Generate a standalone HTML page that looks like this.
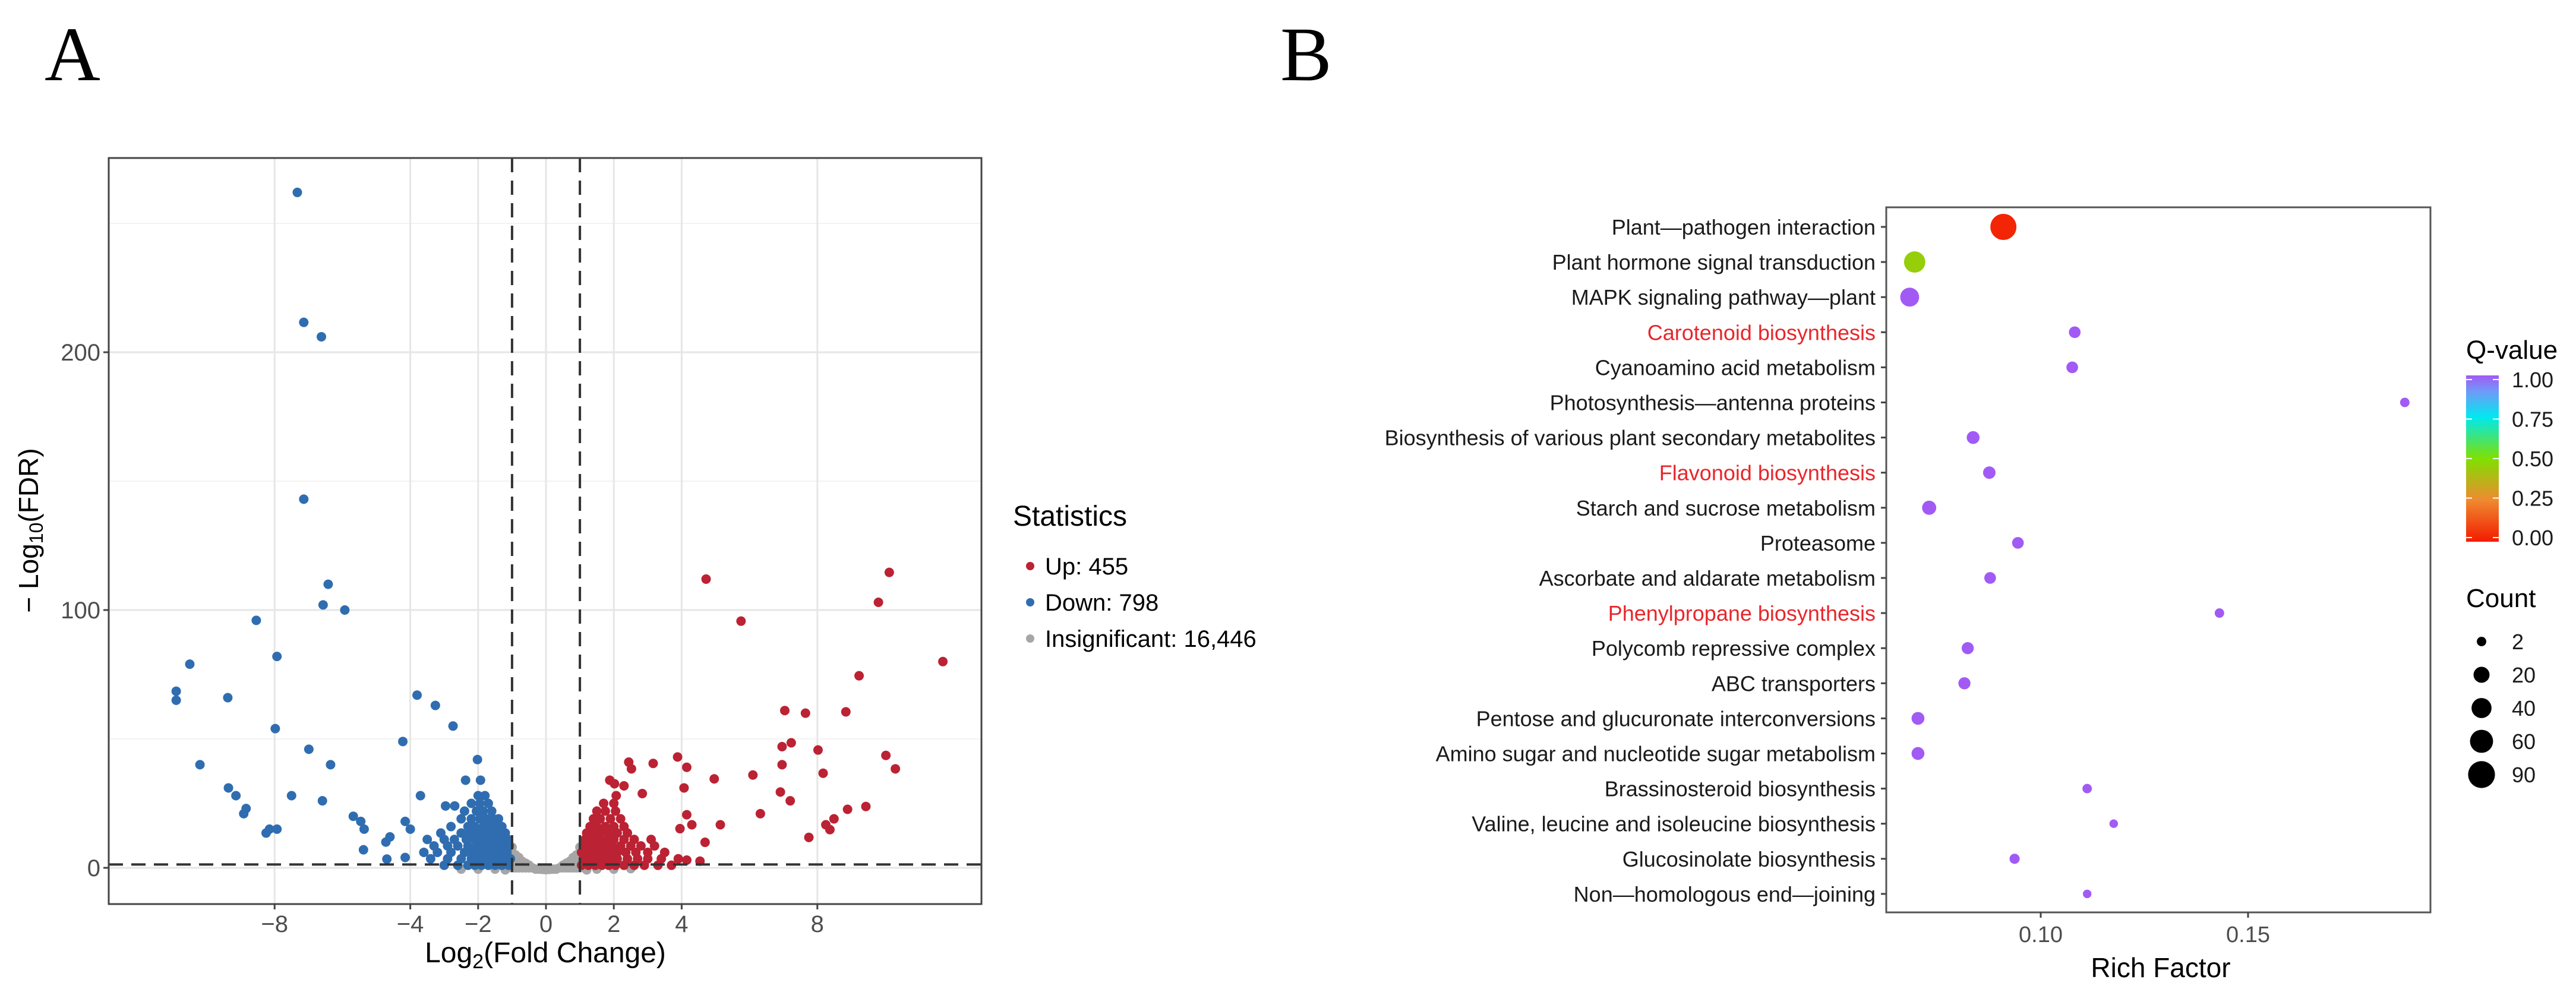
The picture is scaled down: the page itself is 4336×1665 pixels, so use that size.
<!DOCTYPE html>
<html><head><meta charset="utf-8"><style>
html,body{margin:0;padding:0;background:#fff;}
svg{display:block;font-family:"Liberation Sans",sans-serif;}
</style></head><body>
<svg id="fig" width="4336" height="1665" viewBox="0 0 4336 1665" xmlns="http://www.w3.org/2000/svg">
<defs>
<linearGradient id="qgrad" x1="0" y1="1" x2="0" y2="0">
<stop offset="0" stop-color="#f21c00"/><stop offset="0.25" stop-color="#f08a30"/>
<stop offset="0.5" stop-color="#7fe000"/><stop offset="0.75" stop-color="#00e8f0"/>
<stop offset="0.9" stop-color="#6d9cf8"/><stop offset="1" stop-color="#a25af5"/>
</linearGradient>
</defs>
<text x="75" y="135" font-family="Liberation Serif,serif" font-size="130" fill="#000">A</text>
<text x="2155" y="135" font-family="Liberation Serif,serif" font-size="130" fill="#000">B</text>
<g id="pa"></g>
<g id="pb"></g>
</svg>
<script>
// ---------- Panel A data ----------
const xTicksA = [-8,-4,-2,0,2,4,8];
const yTicksA = [0,100,200];
const yMinorA = [50,150,250];
const legendLabelsA = ["Up: 455","Down: 798","Insignificant: 16,446"];
const grayPts = [[-1,0],[-1,2],[-1,4],[-1,6],[-1,8],[-0.9,0],[-0.9,2.5],[-0.9,5],[-0.8,0],[-0.8,2],[-0.8,4],[-0.7,0],[-0.7,2.5],[-0.6,0],[-0.6,1.8],[-0.5,0],[-0.5,1],[-0.4,0],[-0.3,-0.5],[-0.2,-0.5],[-0.1,-0.6],[0,-0.7],[0.1,-0.6],[0.2,-0.5],[0.3,-0.5],[0.4,0],[0.5,0],[0.5,1],[0.6,0],[0.6,1.8],[0.7,0],[0.7,2.5],[0.8,0],[0.8,2],[0.8,4],[0.9,0],[0.9,2.5],[0.9,5],[1,0],[1,2],[1,4],[1,6],[1,8],[-1.5,-0.5],[-2,-0.5],[-2.5,-0.5],[1.5,-0.5],[2,-0.5],[2.5,-0.3],[-1.2,-0.8],[1.2,-0.8]];
const downPts = [[-7.33,262],[-7.14,211.6],[-6.62,206],[-7.14,143],[-6.42,110],[-6.57,102],[-5.93,100],[-8.54,96],[-7.93,82],[-10.5,79],[-10.9,68.5],[-10.9,65],[-9.38,66],[-3.8,67],[-3.26,63],[-7.98,54],[-2.74,55],[-4.22,49],[-6.99,46],[-10.2,40],[-6.35,40],[-2.02,42],[-9.36,31],[-9.14,28],[-8.84,23],[-8.91,21],[-7.5,28],[-6.59,26],[-8.15,15],[-7.93,15],[-8.25,13.5],[-5.68,20],[-5.46,18],[-5.36,15],[-5.38,7],[-4.6,12],[-4.72,10],[-4.69,3.4],[-4.15,18],[-4.0,15],[-4.15,4],[-3.7,28],[-2.96,24],[-2.69,24],[-2.37,34],[-1.93,34],
[-3.0,1],[-2.6,1],[-2.3,1],[-2.1,1],[-1.9,1],[-1.7,1],[-1.5,1],[-1.3,1],[-1.1,1],
[-3.4,3.5],[-2.9,3.5],[-2.5,3.5],[-2.2,3.5],[-2.0,3.5],[-1.8,3.5],[-1.6,3.5],[-1.4,3.5],[-1.2,3.5],[-1.05,3.5],
[-3.6,6],[-3.2,6],[-2.8,6],[-2.4,6],[-2.15,6],[-1.95,6],[-1.75,6],[-1.55,6],[-1.35,6],[-1.15,6],
[-3.3,8.5],[-2.9,8.5],[-2.6,8.5],[-2.3,8.5],[-2.05,8.5],[-1.85,8.5],[-1.65,8.5],[-1.45,8.5],[-1.25,8.5],[-1.08,8.5],
[-3.5,11],[-3.0,11],[-2.7,11],[-2.35,11],[-2.1,11],[-1.9,11],[-1.7,11],[-1.5,11],[-1.3,11],[-1.12,11],
[-3.1,13.5],[-2.5,13.5],[-2.25,13.5],[-2.0,13.5],[-1.8,13.5],[-1.6,13.5],[-1.4,13.5],[-1.2,13.5],
[-2.8,16],[-2.3,16],[-2.1,16],[-1.85,16],[-1.65,16],[-1.45,16],[-1.3,16],
[-2.5,19],[-2.2,19],[-1.95,19],[-1.75,19],[-1.55,19],[-1.4,19],
[-2.4,22],[-2.05,22],[-1.85,22],[-1.6,22],[-2.2,25],[-1.95,25],[-1.7,25],[-2.0,28],[-1.8,28]];
const upPts = [[4.72,112],[10.12,114.6],[9.8,103],[5.75,95.7],[11.7,80],[9.23,74.5],[7.04,61],[7.65,60],[8.84,60.5],[7.23,48.5],[6.96,47],[8.02,45.7],[10.02,43.6],[10.3,38.4],[6.96,40],[6.1,36],[8.17,36.7],[4.96,34.5],[6.91,29.4],[7.2,26],[6.32,21],[5.14,16.7],[9.43,23.8],[8.89,22.7],[8.49,19],[8.25,16.7],[8.37,14.8],[7.75,11.8],[4.69,9.9],[3.88,43],[4.15,39],[3.16,40.5],[2.44,41],[2.52,38.4],[4.07,31],[1.88,34],[2.02,32.6],[2.3,31.8],[2.84,28.8],[2.07,28],[4.15,20.6],[4.3,16.7],[3.95,15.2],[4.54,2.6],[4.15,3],
[1.05,1],[1.25,1],[1.45,1],[1.65,1],[1.85,1],[2.05,1],[2.3,1],[2.6,1],[2.9,1],[3.3,1],[3.7,1],
[1.1,3.5],[1.3,3.5],[1.5,3.5],[1.7,3.5],[1.9,3.5],[2.1,3.5],[2.4,3.5],[2.7,3.5],[3.0,3.5],[3.4,3.5],[3.9,3.5],
[1.05,6],[1.25,6],[1.45,6],[1.65,6],[1.85,6],[2.1,6],[2.35,6],[2.65,6],[3.0,6],[3.5,6],
[1.1,8.5],[1.3,8.5],[1.5,8.5],[1.7,8.5],[1.95,8.5],[2.2,8.5],[2.5,8.5],[2.8,8.5],[3.2,8.5],
[1.15,11],[1.35,11],[1.55,11],[1.8,11],[2.0,11],[2.3,11],[2.6,11],[3.1,11],
[1.2,13.5],[1.4,13.5],[1.6,13.5],[1.85,13.5],[2.1,13.5],[2.4,13.5],
[1.3,16],[1.5,16],[1.75,16],[2.0,16],[2.3,16],[1.4,19],[1.6,19],[1.9,19],[2.2,19],
[1.5,22],[1.75,22],[2.05,22],[1.7,25],[2.0,25]];

// ---------- Panel B data ----------
const pathways = ["Plant\u2014pathogen interaction","Plant hormone signal transduction","MAPK signaling pathway\u2014plant","Carotenoid biosynthesis","Cyanoamino acid metabolism","Photosynthesis\u2014antenna proteins","Biosynthesis of various plant secondary metabolites","Flavonoid biosynthesis","Starch and sucrose metabolism","Proteasome","Ascorbate and aldarate metabolism","Phenylpropane biosynthesis","Polycomb repressive complex","ABC transporters","Pentose and glucuronate interconversions","Amino sugar and nucleotide sugar metabolism","Brassinosteroid biosynthesis","Valine, leucine and isoleucine biosynthesis","Glucosinolate biosynthesis","Non\u2014homologous end\u2014joining"];
const highlighted = ["Carotenoid biosynthesis","Flavonoid biosynthesis","Phenylpropane biosynthesis"];
const richFactor = [0.091,0.0696,0.0684,0.1082,0.1076,0.1878,0.0837,0.0876,0.0731,0.0945,0.0878,0.1431,0.0824,0.0816,0.0704,0.0704,0.1112,0.1176,0.0937,0.1112];
const geneCount = [84,48,34,6,6,2,9,8,13,6,6,2,7,7,9,9,2,1,3,1];
const qValue = [0.02,0.45,1,1,1,1,1,1,1,1,1,1,1,1,1,1,1,1,1,1];
const xTicksB = [0.10,0.15];
const qTicks = [0,0.25,0.5,0.75,1];
const countTicks = [2,20,40,60,90];

const NS="http://www.w3.org/2000/svg";
function mk(parent,tag,attrs,txt){const e=document.createElementNS(NS,tag);for(const k in attrs)e.setAttribute(k,attrs[k]);if(txt!==undefined)e.textContent=txt;parent.appendChild(e);return e;}

// ---- Panel A ----
const pa=document.getElementById('pa');
const A={l:183,r:1652,t:266,b:1522};
const xA=v=>919+57.1*v, yA=v=>1461-4.34*v;
mk(pa,'rect',{x:A.l,y:A.t,width:A.r-A.l,height:A.b-A.t,fill:'#fff'});
yMinorA.forEach(v=>{const l=mk(pa,'line',{x1:A.l,x2:A.r,y1:yA(v),y2:yA(v),stroke:'#f2f2f2','stroke-width':2});});
yTicksA.forEach(v=>{const l=mk(pa,'line',{x1:A.l,x2:A.r,y1:yA(v),y2:yA(v),stroke:'#e6e6e6','stroke-width':3});});
xTicksA.forEach(v=>{const l=mk(pa,'line',{x1:xA(v),x2:xA(v),y1:A.t,y2:A.b,stroke:'#e6e6e6','stroke-width':3});});
function pts(arr,col,name){arr.forEach(p=>{const c=mk(pa,'circle',{cx:xA(p[0]),cy:yA(p[1]),r:8,fill:col});});}
pts(grayPts,'#a6a6a6','insignificant-point');
pts(downPts,'#2f6db0','down-point');
pts(upPts,'#bb2233','up-point');
[-1,1].forEach(v=>{const l=mk(pa,'line',{x1:xA(v),x2:xA(v),y1:A.t,y2:A.b,stroke:'#333','stroke-width':4,'stroke-dasharray':'24,14'});});
{const l=mk(pa,'line',{x1:A.l,x2:A.r,y1:yA(1.3),y2:yA(1.3),stroke:'#333','stroke-width':4,'stroke-dasharray':'24,14'});}
{const r=mk(pa,'rect',{x:A.l,y:A.t,width:A.r-A.l,height:A.b-A.t,fill:'none',stroke:'#444','stroke-width':3});}
yTicksA.forEach(v=>{mk(pa,'line',{x1:A.l-9,x2:A.l,y1:yA(v),y2:yA(v),stroke:'#444','stroke-width':3});const t=mk(pa,'text',{x:A.l-14,y:yA(v)+14,'text-anchor':'end','font-size':40,fill:'#4d4d4d'},v);});
xTicksA.forEach(v=>{mk(pa,'line',{x1:xA(v),x2:xA(v),y1:A.b,y2:A.b+9,stroke:'#444','stroke-width':3});const t=mk(pa,'text',{x:xA(v),y:A.b+47,'text-anchor':'middle','font-size':40,fill:'#4d4d4d'},v<0?'\u2212'+(-v):v);});
{const t=mk(pa,'text',{x:918,y:1620,'text-anchor':'middle','font-size':48,fill:'#000'});t.innerHTML='Log<tspan font-size="34" dy="10">2</tspan><tspan dy="-10">(Fold Change)</tspan>';}
{const t=mk(pa,'text',{x:0,y:0,'text-anchor':'middle','font-size':46,fill:'#000',transform:'translate(64,893) rotate(-90)'});t.innerHTML='\u2212 Log<tspan font-size="32" dy="8">10</tspan><tspan dy="-8">(FDR)</tspan>';}
{const t=mk(pa,'text',{x:1705,y:885,'font-size':48,fill:'#000'},'Statistics');}
const legCols=['#bb2233','#2f6db0','#a6a6a6'];
legendLabelsA.forEach((s,i)=>{const y=953+i*61;const c=mk(pa,'circle',{cx:1734,cy:y,r:7,fill:legCols[i]});const t=mk(pa,'text',{x:1759,y:y+14,'font-size':40,fill:'#000'},s);});

// ---- Panel B ----
const pb=document.getElementById('pb');
const B={l:3175,r:4091,t:349,b:1536};
const xB=v=>3435+(v-0.10)*6980, yB=i=>382+59.1*i;
const rB=c=>5.4+1.81*Math.sqrt(c);
const qStops=[[0,[242,28,0]],[0.25,[240,138,48]],[0.5,[127,224,0]],[0.75,[0,232,240]],[0.9,[109,156,248]],[1,[162,90,245]]];
function qCol(q){for(let k=1;k<qStops.length;k++){if(q<=qStops[k][0]){const a=qStops[k-1],b=qStops[k],f=(q-a[0])/(b[0]-a[0]);return 'rgb('+a[1].map((v,j)=>Math.round(v+(b[1][j]-v)*f)).join(',')+')';}}return 'rgb(162,90,245)';}
{const r=mk(pb,'rect',{x:B.l,y:B.t,width:B.r-B.l,height:B.b-B.t,fill:'#fff',stroke:'#555','stroke-width':3});}
pathways.forEach((p,i)=>{const y=yB(i);mk(pb,'line',{x1:B.l-9,x2:B.l,y1:y,y2:y,stroke:'#444','stroke-width':3});const t=mk(pb,'text',{x:3157,y:y+13,'text-anchor':'end','font-size':36,fill:highlighted.includes(p)?'#e8262b':'#1a1a1a'},p);
const c=mk(pb,'circle',{cx:xB(richFactor[i]),cy:y,r:rB(geneCount[i]),fill:qCol(qValue[i])});});
xTicksB.forEach(v=>{mk(pb,'line',{x1:xB(v),x2:xB(v),y1:B.b,y2:B.b+9,stroke:'#444','stroke-width':3});const t=mk(pb,'text',{x:xB(v),y:B.b+50,'text-anchor':'middle','font-size':38,fill:'#4d4d4d'},v.toFixed(2));});
{const t=mk(pb,'text',{x:3637,y:1645,'text-anchor':'middle','font-size':46,fill:'#000'},'Rich Factor');}
{const t=mk(pb,'text',{x:4151,y:604,'font-size':44,fill:'#000'},'Q-value');}
const cb={x:4151,w:55,t:632,b:912};
{const r=mk(pb,'rect',{x:cb.x,y:cb.t,width:cb.w,height:cb.b-cb.t,fill:'url(#qgrad)'});}
qTicks.forEach(q=>{const y=cb.b-7-(cb.b-cb.t-14)*q;mk(pb,'line',{x1:cb.x,x2:cb.x+10,y1:y,y2:y,stroke:'#fff','stroke-width':2});mk(pb,'line',{x1:cb.x+cb.w-10,x2:cb.x+cb.w,y1:y,y2:y,stroke:'#fff','stroke-width':2});const t=mk(pb,'text',{x:4228,y:y+13,'font-size':36,fill:'#1a1a1a'},q.toFixed(2));});
{const t=mk(pb,'text',{x:4151,y:1022,'font-size':44,fill:'#000'},'Count');}
countTicks.forEach((c,i)=>{const y=1080+i*56;const k=mk(pb,'circle',{cx:4177,cy:y,r:rB(c),fill:'#000'});const t=mk(pb,'text',{x:4228,y:y+13,'font-size':36,fill:'#1a1a1a'},c);});
</script>
</body></html>
